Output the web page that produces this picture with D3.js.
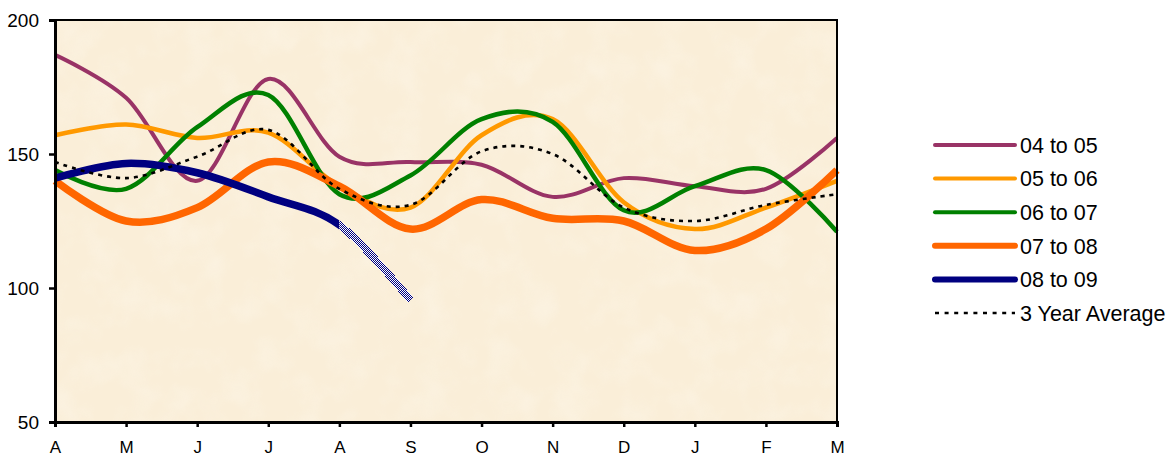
<!DOCTYPE html>
<html>
<head>
<meta charset="utf-8">
<script src="https://cdn.jsdelivr.net/npm/d3@7"></script>
<style>
  body { margin: 0; background: #fff; }
  svg { display: block; font-family: "Liberation Sans", Arial, Helvetica, sans-serif; }
</style>
</head>
<body>
<div id="chart"></div>
<script>
  'use strict';

  // month labels (April to March)
  var months = ['A', 'M', 'J', 'J', 'A', 'S', 'O', 'N', 'D', 'J', 'F', 'M'];
  var yTicks = [50, 100, 150, 200];

  // series values
  var s0405 = [187, 171, 140, 178, 149, 147, 146, 134, 141, 138, 137, 156];
  var s0506 = [157, 161, 156, 158, 138, 130, 157, 163, 132, 122, 130, 140];
  var s0607 = [144, 137, 160, 172, 135, 142, 163, 162, 129, 138, 144, 121];
  var s0708 = [140, 125, 130, 147, 138, 122, 133, 126, 125, 114, 122, 144];
  var s0809 = [141, 146.5, 143, 134, 123.5, 95.5];
  var avg3 = [147, 141, 149, 159, 137, 131, 151, 150, 130, 125, 131, 135];

  var seriesNames = ['04 to 05', '05 to 06', '06 to 07', '07 to 08', '08 to 09', '3 Year Average'];
  var seriesData = [s0405, s0506, s0607, s0708, s0809, avg3];
  var seriesColors = ['#993366', '#FF9900', '#008000', '#FF6600', '#000080', '#000000'];
  var lineWidths = [4, 4.5, 4.5, 7.5, 7.5, 2.6];
  var legendWidths = [4, 4, 4, 6, 6, 2.6];

  var width = 1169, height = 457;
  var margin = { top: 20, right: 332, bottom: 35, left: 55 };
  var plotW = width - margin.left - margin.right;
  var plotH = height - margin.top - margin.bottom;

  var svg = d3.select('#chart').append('svg')
    .attr('width', width)
    .attr('height', height);

  var defs = svg.append('defs');

  // checkered pattern for the estimated part of 08 to 09
  var pat = defs.append('pattern')
    .attr('id', 'checker')
    .attr('patternUnits', 'userSpaceOnUse')
    .attr('width', 2)
    .attr('height', 2);
  pat.append('rect').attr('width', 2).attr('height', 2).attr('fill', '#ffffff');
  pat.append('rect').attr('width', 1).attr('height', 1).attr('fill', '#000080')
    .attr('shape-rendering', 'crispEdges');
  pat.append('rect').attr('x', 1).attr('y', 1).attr('width', 1).attr('height', 1).attr('fill', '#000080')
    .attr('shape-rendering', 'crispEdges');

  // parchment texture
  var filt = defs.append('filter').attr('id', 'paper')
    .attr('x', 0).attr('y', 0).attr('width', '100%').attr('height', '100%');
  filt.append('feTurbulence')
    .attr('type', 'fractalNoise')
    .attr('baseFrequency', 0.03)
    .attr('numOctaves', 3)
    .attr('seed', 4)
    .attr('result', 'noise');
  filt.append('feColorMatrix')
    .attr('in', 'noise')
    .attr('type', 'matrix')
    .attr('values', '0 0 0 0 1  0 0 0 0 0.98  0 0 0 0 0.93  0 0 0 -1.2 0.7');

  var x = d3.scalePoint()
    .domain(d3.range(months.length))
    .range([0, plotW]);

  var y = d3.scaleLinear()
    .domain([50, 200])
    .range([plotH, 0]);

  var g = svg.append('g')
    .attr('transform', 'translate(' + margin.left + ',' + margin.top + ')');

  // plot area background
  g.append('rect')
    .attr('width', plotW)
    .attr('height', plotH)
    .attr('fill', '#FAEED8');
  g.append('rect')
    .attr('width', plotW)
    .attr('height', plotH)
    .attr('filter', 'url(#paper)')
    .attr('opacity', 0.45);

  // clip paths to split the 08 to 09 line into actual and estimate
  var splitX = x(4);
  defs.append('clipPath').attr('id', 'clipSolid')
    .append('rect').attr('x', -10).attr('y', -10).attr('width', splitX + 10).attr('height', plotH + 20);
  defs.append('clipPath').attr('id', 'clipEst')
    .append('rect').attr('x', splitX).attr('y', -10).attr('width', plotW).attr('height', plotH + 20);

  var line = d3.line()
    .x(function(d, i) { return x(i); })
    .y(function(d) { return y(d); })
    .curve(d3.curveCardinal.tension(0));

  seriesData.forEach(function(data, k) {
    if (k === 4) {
      g.append('path')
        .attr('d', line(data))
        .attr('fill', 'none')
        .attr('stroke', seriesColors[k])
        .attr('stroke-width', lineWidths[k])
        .attr('clip-path', 'url(#clipSolid)');
      g.append('path')
        .attr('d', line(data))
        .attr('fill', 'none')
        .attr('stroke', 'url(#checker)')
        .attr('stroke-width', lineWidths[k])
        .attr('shape-rendering', 'crispEdges')
        .attr('clip-path', 'url(#clipEst)');
      return;
    }
    g.append('path')
      .attr('d', line(data))
      .attr('fill', 'none')
      .attr('stroke', seriesColors[k])
      .attr('stroke-width', lineWidths[k])
      .attr('stroke-dasharray', k === 5 ? '4,5' : null);
  });

  // border of the plot area
  g.append('rect')
    .attr('width', plotW)
    .attr('height', plotH)
    .attr('fill', 'none')
    .attr('stroke', '#000')
    .attr('stroke-width', 2);

  // axes
  var yAxis = g.append('g')
    .call(d3.axisLeft(y).tickValues(yTicks).tickSize(6).tickPadding(10));
  var xAxis = g.append('g')
    .attr('transform', 'translate(0,' + plotH + ')')
    .call(d3.axisBottom(x).tickSize(5).tickPadding(14).tickFormat(function(i) { return months[i]; }));

  [yAxis, xAxis].forEach(function(ax) {
    ax.select('.domain').attr('stroke', '#000').attr('stroke-width', 3);
    ax.selectAll('.tick line').attr('stroke', '#000').attr('stroke-width', 2.5);
    ax.selectAll('.tick text')
      .attr('fill', '#000')
      .style('font-family', '"Liberation Sans", Arial, sans-serif')
      .style('font-size', '17px');
  });
  yAxis.selectAll('.tick text').style('font-size', '19px');

  // legend
  var legend = svg.append('g')
    .attr('transform', 'translate(933,145)');

  var items = legend.selectAll('.legend')
    .data(seriesNames)
    .enter()
    .append('g')
    .attr('class', 'legend')
    .attr('transform', function(d, i) { return 'translate(0,' + (i * 33.6) + ')'; });

  items.append('line')
    .attr('x1', 2)
    .attr('x2', 82)
    .attr('stroke', function(d, i) { return seriesColors[i]; })
    .attr('stroke-width', function(d, i) { return legendWidths[i]; })
    .attr('stroke-linecap', function(d, i) { return i === 5 ? 'butt' : 'round'; })
    .attr('stroke-dasharray', function(d, i) { return i === 5 ? '4,5.6' : null; });

  items.append('text')
    .attr('x', 87)
    .attr('dy', '0.36em')
    .style('font-size', '21.5px')
    .attr('fill', '#000')
    .text(function(d) { return d; });
</script>
</body>
</html>
